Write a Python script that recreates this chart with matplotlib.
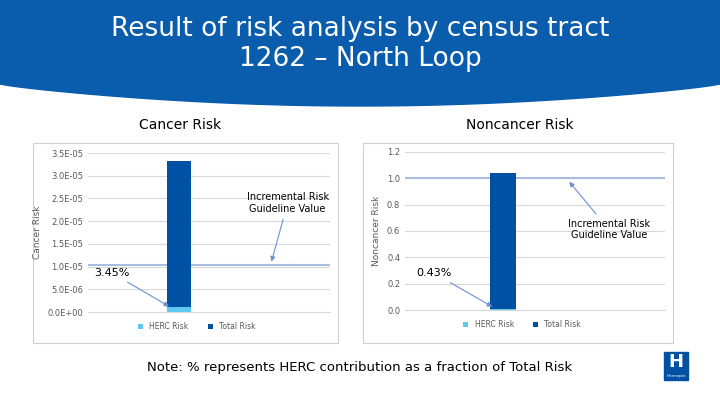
import numpy as np
import matplotlib.pyplot as plt
from matplotlib.patches import Polygon, Rectangle

series = ["HERC Risk", "Total Risk"]
cancer_vals = [1.15e-06, 3.33e-05]
cancer_guideline = 1.03e-05
cancer_pct = "3.45%"
noncancer_vals = [0.0045, 1.04]
noncancer_guideline = 1.0
noncancer_pct = "0.43%"
cancer_ticks = [0, 5e-6, 1e-5, 1.5e-5, 2e-5, 2.5e-5, 3e-5, 3.5e-5]
noncancer_ticks = [0.0, 0.2, 0.4, 0.6, 0.8, 1.0, 1.2]

DARK = "#0050a4"
LIGHT = "#5ec8f0"
GUIDE = "#a9bde0"
W, H = 720, 405

fig = plt.figure(figsize=(7.2, 4.05), dpi=100)

# header band with curved bottom
bg = fig.add_axes([0, 0, 1, 1])
bg.set_xlim(0, W)
bg.set_ylim(H, 0)
bg.axis("off")
xs = np.linspace(0, W, 100)
ys = 84 + 22 * np.sin(np.pi * xs / W) ** 0.8
bg.add_patch(Polygon(np.vstack([[[0, 0]], np.column_stack([xs, ys]), [[W, 0]]]),
                     closed=True, color="#0a5cad", zorder=0))
bg.text(360, 44, "Result of risk analysis by census tract\n1262 \u2013 North Loop",
        color="white", fontsize=19, ha="center", va="center", linespacing=1.15)
bg.text(180, 125, "Cancer Risk", fontsize=10, ha="center", va="center")
bg.text(520, 125, "Noncancer Risk", fontsize=10, ha="center", va="center")
bg.text(360, 367, "Note: % represents HERC contribution as a fraction of Total Risk",
        fontsize=9.5, ha="center", va="center")
for x0, x1 in [(33, 338), (363, 673)]:
    bg.add_patch(Rectangle((x0, 143), x1 - x0, 200, fill=False, ec="#d0d0d0", lw=0.8))
# logo
bg.add_patch(Rectangle((664, 352), 24, 28, color=DARK))
bg.text(676, 362, "H", color="white", fontsize=13, ha="center", va="center", fontweight="bold")
bg.text(676, 376, "Hennepin", color="white", fontsize=3, ha="center", va="center")


def panel(rect, vals, guide, ticks, ylabel, fmt, pct, pct_xy, guide_xy, guide_arrow):
    ax = fig.add_axes(rect)
    ax.bar(0, vals[1], width=0.1, color=DARK, label=series[1], zorder=2)
    ax.bar(0, vals[0], width=0.1, color=LIGHT, label=series[0], zorder=3)
    ax.axhline(guide, color=GUIDE, lw=1.5, zorder=1)
    ax.set_xlim(-0.375, 0.625)
    ax.set_ylim(0, ticks[-1])
    ax.set_yticks(ticks)
    ax.set_yticklabels([fmt(t) for t in ticks], fontsize=6, color="#595959")
    ax.yaxis.grid(True, color="#d9d9d9", lw=0.8, zorder=0)
    ax.set_axisbelow(True)
    ax.set_xticks([])
    for s in ax.spines.values():
        s.set_visible(False)
    ax.spines["bottom"].set_visible(True)
    ax.spines["bottom"].set_color("#d9d9d9")
    ax.tick_params(axis="y", length=0)
    ax.set_ylabel(ylabel, fontsize=6.5, color="#595959")
    ax.annotate(pct, xy=(-0.03, vals[0] * 0.5 + ticks[-1] * 0.01), xytext=pct_xy,
                fontsize=8, ha="left", va="bottom",
                arrowprops=dict(arrowstyle="-|>", color="#6d8fd0", lw=0.8, mutation_scale=7))
    ax.annotate("Incremental Risk\nGuideline Value", xy=guide_arrow, xytext=guide_xy,
                fontsize=7, ha="center", va="center",
                arrowprops=dict(arrowstyle="-|>", color="#6d8fd0", lw=0.8, mutation_scale=7))
    h, l = ax.get_legend_handles_labels()
    ax.legend(h[::-1], l[::-1], loc="upper center", bbox_to_anchor=(0.45, -0.02), ncol=2,
              frameon=False, fontsize=5.5, handlelength=0.7, handleheight=0.7,
              columnspacing=2.5, labelcolor="#595959")
    return ax


panel([88 / W, 1 - 312 / H, 242 / W, 159 / H], cancer_vals, cancer_guideline,
      cancer_ticks, "Cancer Risk", lambda t: f"{t:.1E}", cancer_pct,
      (-0.35, 0.75e-5), (0.45, 2.4e-5), (0.38, 1.05e-5))
panel([405 / W, 1 - 310 / H, 260 / W, 158 / H], noncancer_vals, noncancer_guideline,
      noncancer_ticks, "Noncancer Risk", lambda t: f"{t:.1f}", noncancer_pct,
      (-0.33, 0.24), (0.41, 0.61), (0.25, 0.99))

fig.savefig("out.png", dpi=100)
